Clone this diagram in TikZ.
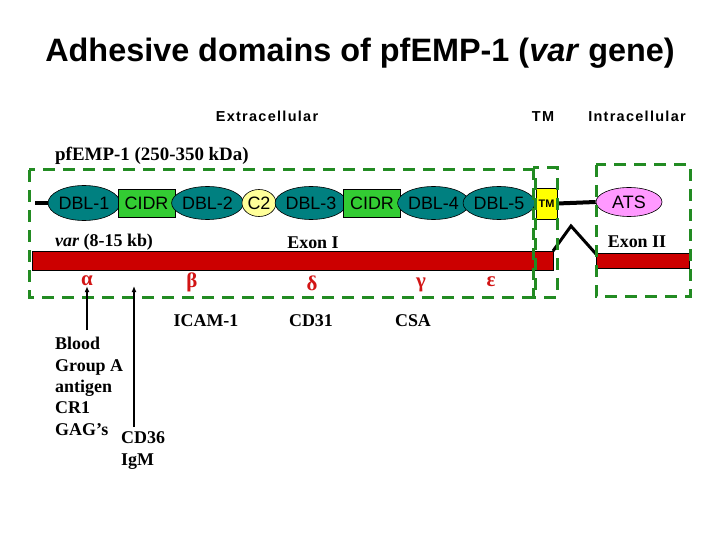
\documentclass[tikz,border=0pt]{standalone}
\usepackage{fontspec}
\setmainfont{Liberation Serif}
\newfontfamily\arial{Liberation Sans}
\usetikzlibrary{shapes.geometric,arrows.meta}
\definecolor{teal}{RGB}{0,128,128}
\definecolor{cidrgreen}{RGB}{51,204,51}
\definecolor{lightyellow}{RGB}{255,255,153}
\definecolor{tmyellow}{RGB}{255,255,0}
\definecolor{atspink}{RGB}{255,153,255}
\definecolor{barred}{RGB}{204,0,0}
\definecolor{greekred}{RGB}{210,20,20}
\definecolor{dashgreen}{RGB}{34,139,34}
\tikzset{
  dom/.style={ellipse,draw=black,line width=0.6bp,fill=teal,inner sep=0pt,font=\arial\fontsize{18}{20}\selectfont},
  rectdom/.style={rectangle,draw=black,line width=0.6bp,fill=cidrgreen,inner sep=0pt,font=\arial\fontsize{18}{20}\selectfont},
  stxt/.style={inner sep=0pt,font=\bfseries\fontsize{18}{20}\selectfont},
  head/.style={inner sep=0pt,font=\arial\bfseries\addfontfeature{LetterSpace=9}\fontsize{14.5}{16}\selectfont},
  greek/.style={inner sep=0pt,text=greekred,font=\bfseries\fontsize{21}{24}\selectfont},
  region/.style={draw=dashgreen,line width=3bp,dash pattern=on 12bp off 8bp},
  bar/.style={draw=black,line width=0.6bp,fill=barred},
  link/.style={line width=4bp,black}
}
\begin{document}
\begin{tikzpicture}[x=1bp,y=-1bp]
\useasboundingbox[fill=white] (0,0) rectangle (720,540);
% title
\node[anchor=base,inner sep=0pt,font=\arial\bfseries\fontsize{32.5}{36}\selectfont] (title) at (360,62) {Adhesive domains of pfEMP-1 (\textit{var} gene)};
\node[head,anchor=base] (extra) at (267,122) {Extracellular};
\node[head,anchor=base] (tmh) at (543,122) {TM};
\node[head,anchor=base] (intra) at (637,122) {Intracellular};
\node[stxt,anchor=base west,font=\bfseries\fontsize{19}{21}\selectfont] (prot) at (55,161) {pfEMP-1 (250-350 kDa)};
% red bars
\draw[bar] (32,251) rectangle (553,270);
\draw[bar] (596,253) rectangle (689,268);
\coordinate (b1) at (553,251);
\coordinate (peak) at (571,226);
\coordinate (b2) at (596,254);
\draw[line width=3bp,line join=miter] (b1) -- (peak) -- (b2);
% domains
\coordinate (lead) at (35,203);
\node[dom,minimum width=66bp,minimum height=35bp] (dbl1) at (84,203) {DBL-1};
\node[rectdom,minimum width=57bp,minimum height=28bp] (cidr1) at (146.5,203) {CIDR};
\node[dom,minimum width=65bp,minimum height=33bp] (dbl2) at (207.5,203) {DBL-2};
\node[dom,fill=lightyellow,minimum width=34bp,minimum height=27bp] (c2) at (259,203) {C2};
\node[dom,minimum width=66bp,minimum height=33bp] (dbl3) at (311,203) {DBL-3};
\node[rectdom,minimum width=57bp,minimum height=28bp] (cidr2) at (372,203) {CIDR};
\node[dom,minimum width=65bp,minimum height=33bp] (dbl4) at (433.5,203) {DBL-4};
\node[dom,minimum width=66bp,minimum height=33bp] (dbl5) at (499,203) {DBL-5};
\node[rectangle,draw=black,line width=0.6bp,fill=tmyellow,inner sep=0pt,minimum width=21bp,minimum height=31bp,font=\arial\bfseries\fontsize{11}{12}\selectfont] (tm) at (546.5,203.5) {TM};
\node[dom,fill=atspink,minimum width=66bp,minimum height=29bp] (ats) at (629,202) {ATS};
\draw[link] (lead) -- (dbl1.west);
\draw[link] (tm.east) -- (ats.west);
% gene labels
\node[stxt,anchor=base west] (var) at (55,247) {\textit{var} (8-15 kb)};
\node[stxt,anchor=base] (exon1) at (313,249) {Exon I};
\node[stxt,anchor=base] (exon2) at (637,248) {Exon II};
% region boxes
\draw[region] (29,170) rectangle (535,297);
\draw[region] (533,168) rectangle (557,297);
\draw[region] (596,165) rectangle (690,296);
% greek
\node[greek] (alpha) at (87,281) {α};
\node[greek] (beta) at (192,282) {β};
\node[greek] (delta) at (312,283) {δ};
\node[greek] (gamma) at (421,285) {γ};
\node[greek] (eps) at (491,282) {ε};
% receptors
\node[stxt,anchor=base] (icam) at (206,326) {ICAM-1};
\node[stxt,anchor=base] (cd31) at (311,326) {CD31};
\node[stxt,anchor=base] (csa) at (413,326) {CSA};
\node[stxt,anchor=base west] (blood) at (55,349) {Blood};
\node[stxt,anchor=base west] (groupa) at (55,371) {Group A};
\node[stxt,anchor=base west] (antigen) at (55,392) {antigen};
\node[stxt,anchor=base west] (cr1) at (55,413) {CR1};
\node[stxt,anchor=base west] (gags) at (55,435) {GAG’s};
\node[stxt,anchor=base west] (cd36) at (121,443) {CD36};
\node[stxt,anchor=base west] (igm) at (121,465) {IgM};
\coordinate (a1s) at (87,330);
\coordinate (a2s) at (134,427);
\coordinate (a2e) at (134,286);
\draw[line width=2bp,-{Latex[length=6bp,width=5bp]}] (a1s) -- (alpha.south);
\draw[line width=1.2bp,-{Latex[length=6bp,width=5bp]}] (a2s) -- (a2e);
\end{tikzpicture}
\end{document}
